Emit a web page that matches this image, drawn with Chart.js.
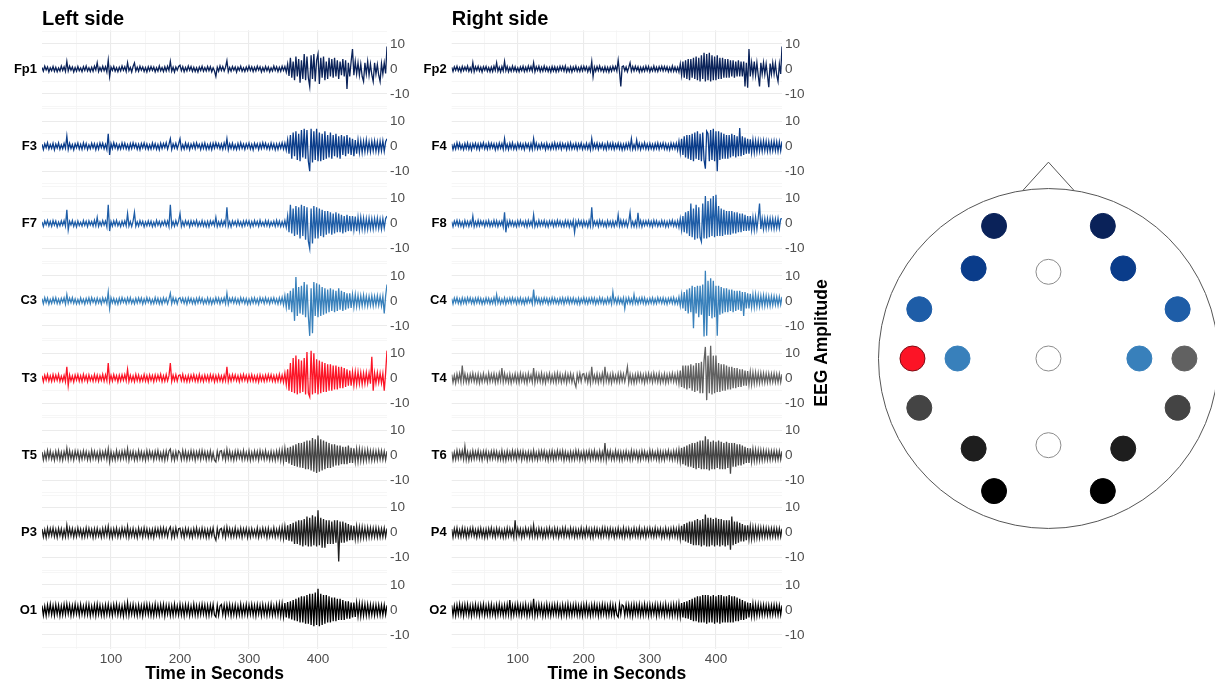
<!DOCTYPE html>
<html><head><meta charset="utf-8">
<script src="https://cdn.jsdelivr.net/npm/chart.js@4.4.0/dist/chart.umd.min.js"></script>
<style>
html,body{margin:0;padding:0;background:#fff;width:1216px;height:685px;overflow:hidden;position:relative}
canvas{position:absolute;display:block}
</style></head><body>
<canvas id="cl" width="420" height="685" style="left:0;top:0;width:420px;height:685px"></canvas>
<canvas id="cr" width="430" height="685" style="left:410px;top:0;width:430px;height:685px"></canvas>
<canvas id="ch" width="362" height="408" style="left:853px;top:146px;width:362px;height:408px"></canvas>
<script>
// ---------- data ----------
const TIMES = [0,2,4,6,8,10,12,14,16,18,20,22,24,26,28,30,32,34,36,38,40,42,44,46,48,
50,52,54,56,58,60,62,64,66,68,70,72,74,76,78,80,82,84,86,88,90,92,94,96,98,
100,102,104,106,108,110,112,114,116,118,120,122,124,126,128,130,132,134,136,138,140,142,144,146,148,
150,152,154,156,158,160,162,164,166,168,170,172,174,176,178,180,182,184,186,188,190,192,194,196,198,
200,202,204,206,208,210,212,214,216,218,220,222,224,226,228,230,232,234,236,238,240,242,244,246,248,
250,252,254,256,258,260,262,264,266,268,270,272,274,276,278,280,282,284,286,288,290,292,294,296,298,
300,302,304,306,308,310,312,314,316,318,320,322,324,326,328,330,332,334,336,338,340,342,344,346,348,
350,352,354,356,358,360,362,364,366,368,370,372,374,376,378,380,382,384,386,388,390,392,394,396,398,
400,402,404,406,408,410,412,414,416,418,420,422,424,426,428,430,432,434,436,438,440,442,444,446,448,
450,452,454,456,458,460,462,464,466,468,470,472,474,476,478,480,482,484,486,488,490,492,494,496,498,
500];
const X_TICK_LABELS = [100,200,300,400];
const X_GRID = [50,100,150,200,250,300,350,400,450];
const Y_TICK_LABELS = [-10,0,10];
const Y_GRID = [-15,-10,-5,0,5,10,15];

const LEFT_NAMES = ['Fp1','F3','F7','C3','T3','T5','P3','O1'];
const RIGHT_NAMES = ['Fp2','F4','F8','C4','T4','T6','P4','O2'];
const LEFT_COLORS = ['#0a2259','#0a3c8a','#1e5da7','#3880bb','#fc1426','#444444','#1e1e1e','#000000'];
const RIGHT_COLORS = ['#0a2259','#0a3c8a','#1e5da7','#3880bb','#616161','#444444','#1e1e1e','#000000'];

const FP1 = [0.6,-0.9,1.1,-0.4,0.8,-1.2,0.5,-0.7,1.0,-0.9,
0.7,-1.1,0.4,-0.8,1.2,-0.6,0.9,-1.0,3.0,-0.8,
1.1,-0.5,0.8,-1.2,0.6,-0.9,1.0,-0.7,0.4,-1.1,
0.9,-0.6,1.2,-0.8,0.5,-1.0,0.7,-0.9,1.1,-0.4,
2.5,-1.0,0.6,-0.8,1.1,-0.7,0.9,-1.2,3.5,-3.0,
0.8,-0.6,1.0,-0.9,0.5,-1.1,0.7,-0.8,1.2,-0.5,
0.9,-1.0,2.5,-0.7,0.6,-1.2,1.0,2.4,-0.8,0.7,
-0.9,1.1,-0.5,0.8,-1.0,0.6,-1.2,0.9,-0.7,1.0,
-0.6,0.8,-1.1,0.5,-0.9,1.2,-0.7,0.6,-1.0,0.9,
-0.8,1.1,-0.6,3.0,-0.9,0.7,-1.2,0.8,-0.5,1.0,
1.5,-0.7,0.9,-1.1,0.6,-0.8,1.2,-0.5,1.0,-0.9,
0.7,-1.0,0.5,-1.2,0.8,-0.6,1.1,-0.9,0.6,-0.8,
1.0,-0.7,0.9,-1.1,0.5,-0.8,-3.0,0.7,-0.9,1.2,
-0.6,1.0,-0.8,0.7,3.3,-1.1,0.6,-0.9,1.0,-0.5,
0.8,-1.2,0.7,-0.6,1.1,-0.9,0.5,-1.0,0.8,-0.7,
1.2,-0.6,0.9,-1.0,0.7,-0.8,1.1,-0.5,0.9,-1.2,
0.6,-0.9,1.0,-0.7,0.8,-1.1,0.5,-0.8,1.2,-0.6,
0.9,-1.0,0.7,-0.9,1.1,-0.6,1.0,-1.2,2.0,-2.8,
4.5,-3.5,3.0,-4.5,5.0,-3.0,4.0,-5.5,3.5,-4.0,
6.0,-4.5,5.0,-3.5,-7.0,5.5,-4.0,6.0,-5.0,3.5,
6.0,-6.0,4.5,-3.5,5.0,-4.5,3.0,-4.0,4.5,-3.0,
4.0,-3.5,4.5,-3.0,3.5,-4.0,3.0,-2.5,4.0,-3.0,
3.5,-8.0,2.5,-3.0,3.0,8.0,-2.5,3.0,-2.0,2.5,
-2.5,2.0,-3.0,-5.0,2.5,-2.0,3.0,-2.5,2.0,-2.3,
-5.0,2.5,-2.0,1.8,-2.5,-5.0,2.2,-2.0,2.5,-1.8,
9.0];
const F3 = [0.8,-1.3,1.0,-0.6,1.4,-1.1,0.7,-0.9,1.2,-1.4,
0.9,-0.7,1.3,-1.2,0.6,-1.0,1.1,-0.8,4.0,-1.3,
1.2,-0.9,0.7,-1.4,1.0,-0.6,1.3,-1.1,0.8,-1.2,
1.4,-0.8,1.1,-1.3,0.6,-1.0,1.2,-0.7,1.0,-1.4,
0.9,-1.1,1.3,-0.6,1.2,-1.0,0.8,-1.3,5.0,-3.5,
1.1,-0.9,1.4,-0.7,1.0,-1.2,0.6,-1.1,1.3,-0.8,
1.2,-1.0,0.7,-1.3,1.1,-0.9,1.4,-0.6,1.0,-1.2,
0.8,-1.4,1.1,-0.7,1.3,-1.0,0.9,-1.2,0.6,-1.1,
1.3,-0.8,1.0,-1.2,0.7,-1.4,1.2,-0.9,1.1,-0.6,
1.4,-1.1,0.8,3.0,-1.3,1.0,-0.7,1.2,-1.0,0.9,
3.0,-1.2,0.6,-1.1,1.3,-0.8,1.0,-1.4,0.9,-0.7,
1.2,-1.0,1.4,-0.6,0.8,-1.3,1.1,-0.9,1.3,-1.2,
0.7,-1.1,1.0,-1.3,1.2,-0.8,1.4,-0.6,1.1,-1.0,
0.9,-1.2,1.3,-0.7,3.0,-1.4,1.0,-0.9,1.2,-1.1,
0.6,-1.3,1.1,-1.0,1.4,-0.8,0.9,-1.2,1.0,-0.7,
1.3,-1.1,0.8,-1.4,1.2,-0.6,1.0,-1.3,1.1,-0.9,
1.4,-0.7,1.2,-1.0,0.8,-1.2,1.3,-0.9,1.0,-1.4,
0.9,-1.2,1.1,-0.8,1.4,-1.1,1.3,-1.5,2.5,-3.0,
4.5,-5.0,5.5,-4.0,6.0,-5.5,5.0,-6.0,6.5,-4.5,
7.0,-5.0,6.5,-6.0,-10.0,7.0,-6.5,6.0,-5.5,7.0,
-6.0,5.5,-6.0,5.0,-5.5,6.0,-5.0,4.5,-4.5,5.5,
-5.0,4.5,-4.0,5.0,-4.5,4.0,-5.0,4.5,-3.5,4.0,
-4.0,4.5,-3.0,3.5,-3.5,3.0,-4.0,2.5,-3.0,2.5,
-2.5,2.2,-2.5,2.0,-2.2,2.5,-2.0,1.8,-2.2,2.0,
-1.8,2.2,-2.0,1.8,-2.2,2.0,-1.8,2.2,-2.0,1.8,
3.0];
const F7 = [0.7,-1.2,1.0,-0.5,1.3,-0.9,0.8,-1.1,1.2,-0.6,
1.0,-1.3,0.6,-0.9,1.1,-0.7,1.2,-1.0,5.5,-2.5,
0.9,-0.6,1.2,-1.1,0.7,-1.3,1.0,-0.8,0.5,-1.0,
1.2,-0.7,0.9,-1.2,1.1,-0.6,0.8,-1.0,1.3,-0.9,
2.5,-1.1,0.7,-0.9,1.2,-0.6,1.0,-1.3,7.5,-3.0,
0.8,-1.0,1.1,-0.7,1.3,-0.9,0.6,-1.2,1.0,-0.8,
1.1,-0.9,4.0,-1.0,0.8,-1.2,1.0,4.5,-1.1,0.7,
-1.0,1.2,-0.6,0.9,-1.3,0.7,-0.9,1.1,-0.8,1.0,
-1.2,0.6,-1.0,1.3,-0.7,0.9,-1.1,0.8,-0.6,1.2,
-0.9,1.0,-1.2,7.5,-1.0,0.8,-1.1,1.2,-0.7,0.9,
4.0,-1.1,0.8,-1.0,1.2,-0.6,0.9,-1.3,1.1,-0.8,
1.0,-0.7,1.3,-1.1,0.6,-0.9,1.2,-1.0,0.8,-1.2,
0.9,-1.3,1.1,-0.6,1.0,-0.8,2.5,-1.2,0.7,-1.0,
1.2,-0.9,1.0,-0.7,6.5,-1.1,0.8,-1.3,1.1,-0.6,
0.9,-1.0,1.3,-0.8,0.7,-1.2,1.0,-0.9,1.2,-0.6,
1.1,-1.3,0.8,-1.0,1.2,-0.7,0.9,-1.1,1.3,-0.8,
0.6,-1.0,1.2,-0.9,1.1,-1.2,0.7,-0.8,1.0,-1.1,
1.3,-0.9,1.0,-1.2,0.8,-1.1,1.2,-1.5,3.0,-3.5,
7.5,-4.0,6.0,-5.0,7.0,-4.5,6.5,-6.0,7.5,-5.0,
7.0,-6.5,6.5,-7.0,-10.0,6.0,-8.0,7.0,-6.0,6.5,
-6.0,6.0,-5.0,5.5,-5.5,5.0,-4.5,5.0,-4.0,4.5,
-4.5,4.0,-4.0,4.5,-3.5,4.0,-3.5,3.5,-4.0,3.0,
-3.5,3.5,-3.0,3.0,-3.0,3.0,-2.5,2.8,-3.0,2.5,
-2.5,2.5,-2.2,2.2,-2.5,2.0,-2.2,2.2,-2.0,2.0,
-2.2,2.0,-1.8,2.2,-2.0,1.8,-2.2,2.0,-1.8,2.0,
3.0];
const C3 = [0.9,-1.2,1.3,-0.7,1.1,-1.3,0.6,-1.0,1.2,-0.8,
1.3,-1.1,0.7,-1.2,1.0,-0.6,1.2,-1.3,2.5,-0.9,
1.1,-0.7,1.3,-1.0,0.8,-1.2,0.6,-1.1,1.2,-0.9,
0.7,-1.3,1.0,-0.8,1.2,-1.1,1.3,-0.6,0.9,-1.2,
1.1,-0.9,0.8,-1.3,1.2,-0.7,1.0,-1.1,3.5,-3.0,
1.2,-0.8,1.0,-1.2,0.7,-1.3,1.1,-0.9,1.3,-0.6,
0.9,-1.1,1.2,-0.8,1.3,-1.0,0.6,-1.2,1.0,-0.9,
1.2,-0.7,1.1,-1.3,0.8,-1.0,1.3,-0.6,1.0,-1.2,
0.6,-1.1,1.3,-0.9,1.0,-1.2,0.8,-1.3,1.2,-0.7,
1.0,-1.2,0.7,3.0,-1.1,1.3,-0.8,1.0,-1.2,0.9,
1.3,-0.6,1.1,-1.0,0.9,-1.3,1.2,-0.7,1.0,-1.1,
0.8,-1.2,1.0,-0.9,1.3,-0.7,1.1,-1.2,0.6,-1.0,
1.2,-1.1,0.9,-1.3,0.7,-1.0,1.3,-0.8,1.1,-1.2,
0.9,-0.7,1.2,-1.1,3.0,-1.3,1.0,-0.6,1.2,-0.9,
1.1,-1.0,0.8,-1.2,1.3,-0.7,1.0,-1.1,0.9,-1.3,
0.7,-1.2,1.1,-0.9,1.2,-1.0,0.8,-1.3,1.3,-0.6,
1.0,-1.1,1.3,-0.8,0.9,-1.2,1.1,-0.7,1.2,-1.0,
0.8,-1.3,1.2,-1.0,1.4,-1.6,2.0,-2.5,3.0,-3.5,
4.0,-4.5,5.0,-8.0,9.5,-6.0,5.5,-5.0,6.0,-5.5,
7.5,-6.5,6.5,-6.0,-14.0,5.0,-13.0,7.5,-6.0,7.0,
-6.5,6.5,-6.0,5.5,-5.5,5.0,-5.0,4.5,-4.5,5.0,
-4.0,4.5,-4.5,4.0,-4.0,5.0,-3.5,4.0,-4.0,3.5,
-3.5,3.0,-3.0,3.0,-2.8,2.5,-2.5,2.5,-2.2,2.2,
-2.2,2.0,-2.0,2.2,-2.0,1.8,-2.0,1.8,-1.8,2.0,
-2.0,1.8,-1.8,2.0,-1.8,1.8,-2.0,1.8,-5.0,2.0,
6.5];
const T3 = [1.0,-1.4,1.2,-0.8,1.5,-1.1,0.9,-1.3,1.4,-1.0,
1.2,-0.9,1.5,-1.3,0.8,-1.2,1.1,-1.4,4.5,-3.0,
1.3,-1.1,0.9,-1.5,1.2,-0.8,1.4,-1.2,1.0,-1.3,
1.5,-0.9,1.1,-1.4,1.3,-1.0,0.8,-1.2,1.4,-1.1,
1.2,-1.3,1.0,-0.9,1.5,-1.2,1.3,-1.0,6.0,-1.4,
1.1,-1.2,1.4,-0.8,1.0,-1.5,1.2,-1.1,1.3,-0.9,
1.4,-1.0,3.5,-1.3,1.1,-1.2,0.9,-1.4,1.5,-1.0,
1.2,-1.3,0.8,-1.1,1.4,-1.2,1.0,-1.5,1.3,-0.9,
1.1,-1.4,1.3,-1.0,1.2,-0.8,1.5,-1.3,1.0,-1.2,
1.4,-1.1,0.9,6.0,-1.3,1.2,-1.0,1.4,-1.2,1.1,
1.3,-1.0,1.5,-1.2,0.8,-1.4,1.1,-1.3,1.2,-0.9,
1.4,-1.2,1.0,-1.3,1.5,-1.1,0.9,-1.4,1.2,-1.0,
1.1,-1.3,1.4,-0.9,1.2,-1.5,1.0,-1.2,1.3,-1.1,
0.9,-1.4,1.2,-1.0,4.5,-1.3,1.1,-1.2,1.4,-0.8,
1.3,-1.1,1.0,-1.4,1.2,-1.0,1.5,-0.9,1.1,-1.3,
1.2,-1.0,1.4,-1.2,0.9,-1.3,1.1,-1.5,1.3,-1.1,
1.0,-1.3,1.2,-1.1,1.4,-0.9,1.3,-1.2,1.0,-1.4,
1.1,-1.2,1.5,-1.3,1.2,-1.6,2.0,-2.5,3.5,-5.0,
6.0,-5.5,8.0,-6.0,9.0,-6.5,7.5,-6.0,7.0,-5.5,
8.0,-6.5,10.5,-6.0,-7.5,11.0,-6.5,10.0,-6.0,7.5,
-6.5,7.0,-6.0,6.5,-5.5,6.0,-5.5,5.5,-5.0,5.5,
-5.0,5.0,-4.5,5.0,-4.5,4.5,-4.0,4.5,-4.0,4.0,
-3.5,3.5,-3.0,3.0,-3.0,2.5,-2.8,2.5,-2.5,2.5,
-2.2,2.2,-2.5,2.0,-2.2,2.2,-2.0,2.0,-2.2,8.5,
-5.0,2.0,-2.0,2.2,-1.8,2.0,-2.0,1.8,-5.0,2.0,
11.0];
const T5 = [1.4,-1.8,1.1,-1.6,1.9,-1.2,1.7,-1.5,1.0,-1.9,
1.6,-1.3,1.8,-1.7,1.2,-1.9,1.5,-1.1,2.8,-1.6,
1.9,-1.4,1.3,-1.8,1.7,-1.0,1.6,-1.9,1.2,-1.5,
1.8,-1.2,1.5,-1.7,1.1,-1.8,1.9,-1.3,1.6,-1.4,
1.2,-1.9,1.7,-1.5,1.4,-1.1,1.8,-1.6,2.5,-2.5,
1.5,-1.7,1.0,-1.8,1.9,-1.4,1.3,-1.6,1.7,-1.2,
1.8,-1.5,2.6,-1.9,1.4,-1.2,1.6,-1.8,1.1,-1.7,
1.9,-1.3,1.5,-1.6,1.2,-1.9,1.8,-1.4,1.7,-1.1,
1.3,-1.8,1.6,-1.2,1.9,-1.5,1.0,-1.7,1.4,-1.9,
1.7,-1.4,1.8,2.6,-1.6,1.2,-1.9,1.5,-1.3,1.8,
1.1,-1.7,1.9,-1.4,1.6,-1.8,1.2,-1.5,1.8,-1.3,
1.6,-1.9,1.4,-1.2,1.7,-1.6,1.9,-1.1,1.5,-1.8,
1.3,-1.5,1.8,-1.7,1.0,-1.9,-2.6,1.6,-1.4,1.7,
1.9,-1.2,1.5,-1.8,2.4,-1.3,1.7,-1.6,1.1,-1.9,
1.6,-1.4,1.8,-1.1,1.3,-1.7,1.9,-1.5,1.2,-1.6,
1.8,-1.9,1.2,-1.6,1.7,-1.3,1.5,-1.8,1.9,-1.2,
1.4,-1.6,1.9,-1.4,1.1,-1.8,1.6,-1.7,1.3,-1.9,
1.7,-1.5,1.9,-2.0,2.2,-2.4,2.8,-2.6,3.0,-3.2,
3.5,-3.8,4.0,-4.2,4.5,-4.5,5.0,-4.8,5.0,-5.0,
5.5,-5.5,6.0,-5.5,6.0,-6.0,7.0,-6.5,6.5,-7.0,
8.0,-6.5,6.5,-6.0,6.0,-5.5,5.5,-5.0,5.0,-5.0,
4.5,-4.5,4.5,-4.0,4.0,-4.0,4.0,-3.5,3.5,-3.5,
3.5,-3.5,4.0,-3.0,3.0,-3.0,2.8,-2.5,2.5,-2.5,
2.5,-2.2,2.2,-2.2,2.0,-2.0,2.2,-1.9,1.8,-2.0,
1.8,-1.9,1.7,-1.8,1.9,-1.6,1.8,-1.7,1.6,-1.8,
1.7];
const P3 = [1.5,-1.7,1.2,-1.9,1.8,-1.3,1.6,-1.1,1.9,-1.5,
1.3,-1.8,1.7,-1.2,1.5,-1.9,1.1,-1.6,3.0,-1.4,
1.8,-1.2,1.6,-1.7,1.3,-1.5,1.9,-1.1,1.4,-1.8,
1.2,-1.6,1.9,-1.4,1.7,-1.2,1.3,-1.9,1.5,-1.6,
1.7,-1.3,1.1,-1.8,1.6,-1.5,1.9,-1.2,2.5,-1.7,
1.4,-1.9,1.5,-1.3,1.8,-1.6,1.2,-1.7,1.9,-1.1,
1.6,-1.5,2.5,-1.8,1.3,-1.4,1.7,-1.6,1.1,-1.9,
1.8,-1.2,1.4,-1.7,1.9,-1.3,1.5,-1.8,1.2,-1.6,
1.3,-1.9,1.7,-1.1,1.6,-1.5,1.8,-1.4,1.9,-1.2,
1.5,-1.6,1.2,2.3,-1.8,1.4,-1.7,1.9,-1.3,1.6,
1.8,-1.4,1.3,-1.9,1.7,-1.2,1.5,-1.6,1.1,-1.8,
1.6,-1.3,1.9,-1.5,1.2,-1.7,1.8,-1.4,1.4,-1.9,
1.2,-1.8,1.5,-1.2,1.9,-1.6,-3.0,1.7,-1.5,1.3,
1.7,-1.4,1.8,-1.9,2.2,-1.1,1.6,-1.7,1.3,-1.5,
1.9,-1.6,1.2,-1.4,1.8,-1.8,1.5,-1.2,1.7,-1.9,
1.4,-1.7,1.6,-1.3,1.1,-1.5,1.9,-1.8,1.3,-1.4,
1.8,-1.2,1.5,-1.9,1.7,-1.6,1.2,-1.4,1.9,-1.7,
1.3,-1.5,1.8,-2.0,2.2,-2.3,2.5,-2.8,3.0,-3.2,
3.5,-3.5,4.0,-4.5,4.5,-4.5,5.0,-5.0,5.0,-5.5,
5.5,-5.0,6.5,-5.5,6.0,-5.5,7.0,-5.0,6.5,-5.5,
9.0,-5.0,6.0,-6.0,5.5,-6.0,5.0,-4.5,5.0,-4.5,
4.5,-4.5,5.0,-4.0,5.0,-11.5,4.5,-4.0,4.5,-4.0,
4.0,-3.5,3.5,-3.0,3.0,-3.0,2.8,-2.5,2.5,-2.5,
2.2,-2.2,2.2,-2.0,2.0,-2.0,2.0,-1.8,1.9,-1.8,
1.8,-1.7,1.9,-1.8,1.7,-1.8,1.6,-1.7,1.8,-1.6,
1.7];
const O1 = [1.8,-2.1,1.5,-2.2,2.0,-1.6,2.3,-1.9,1.7,-2.2,
2.1,-1.7,1.9,-2.3,1.6,-2.0,2.2,-1.8,2.4,-1.5,
2.0,-2.2,1.7,-1.9,2.3,-1.6,1.8,-2.1,2.2,-1.7,
1.6,-2.0,2.2,-1.8,2.1,-2.3,1.5,-1.9,2.0,-2.2,
2.3,-1.7,1.9,-2.1,1.6,-2.2,2.0,-1.8,2.2,-1.9,
1.7,-2.2,2.1,-1.6,2.3,-1.9,1.8,-2.0,1.6,-2.3,
2.2,-1.8,3.0,-2.1,1.9,-1.7,2.2,-2.0,1.6,-2.2,
2.0,-1.9,1.7,-2.3,2.1,-1.6,2.2,-1.8,2.0,-2.1,
1.6,-2.2,2.3,-1.9,1.8,-2.0,2.1,-1.7,2.2,-2.3,
1.9,-1.6,2.0,-2.2,1.7,-2.1,2.3,-1.8,1.6,-2.0,
2.2,-1.9,1.8,-2.3,2.1,-1.7,2.0,-2.2,1.6,-1.9,
2.3,-2.0,1.7,-2.1,1.9,-1.8,2.2,-1.6,2.0,-2.2,
1.8,-2.1,2.0,-1.7,2.2,-2.0,-2.8,1.9,-2.1,1.6,
2.2,-1.8,1.9,-2.3,2.0,-1.6,2.1,-2.2,1.8,-1.9,
2.0,-2.2,1.6,-1.9,2.3,-2.1,1.7,-1.8,2.2,-2.0,
1.9,-1.7,2.2,-2.0,1.8,-2.3,2.1,-1.6,1.9,-2.2,
2.1,-1.9,1.7,-2.2,2.0,-1.8,2.3,-2.1,1.6,-2.0,
2.2,-2.0,2.4,-2.3,2.5,-2.6,2.8,-3.0,3.2,-3.4,
3.5,-3.8,4.0,-4.2,4.5,-4.5,5.0,-5.0,5.5,-5.0,
5.5,-5.5,6.0,-5.5,6.5,-6.0,6.5,-6.5,7.0,-6.0,
8.5,-6.5,6.5,-6.0,6.0,-5.5,6.0,-5.0,5.5,-5.0,
5.0,-4.5,5.0,-4.5,4.5,-4.0,4.5,-4.0,4.0,-4.0,
3.5,-3.5,3.5,-3.5,3.0,-3.0,3.0,-2.8,2.8,-2.5,
2.5,-2.5,2.5,-2.2,2.3,-2.2,2.2,-2.2,2.1,-2.0,
2.0,-2.1,2.0,-1.9,2.0,-2.0,1.9,-2.0,2.0,-1.8,
1.9];

const FP2 = [0.7,-1.0,0.9,-0.5,1.1,-0.8,0.6,-1.1,1.0,-0.7,
0.8,-0.6,1.2,-0.9,0.5,-1.0,2.5,-1.1,0.9,-0.6,
1.1,-0.8,0.7,-1.2,0.9,-0.5,1.0,-0.9,0.6,-1.1,
0.8,-1.0,1.1,-0.6,2.5,-0.9,0.7,-1.2,1.0,-0.8,
3.0,-0.7,1.0,-1.1,0.6,-0.9,1.2,-0.8,0.9,-1.0,
0.5,-1.1,0.8,-0.7,1.1,-1.0,0.7,-0.9,1.2,-0.6,
1.0,-0.8,2.5,-1.1,0.9,-0.6,1.1,-1.0,0.7,-0.9,
1.2,-0.7,0.8,-1.0,0.6,-1.2,1.0,-0.8,0.9,-1.1,
0.7,-0.9,1.1,-0.6,1.0,-0.8,1.2,-1.1,0.5,-1.0,
0.9,-1.2,0.8,-0.7,1.1,-0.9,0.6,-1.0,1.0,-0.8,
1.1,-0.6,0.9,-1.1,0.7,-1.0,3.0,-3.0,0.8,-0.9,
1.0,-0.7,1.2,-0.8,0.6,-1.1,0.9,-1.0,0.7,-1.2,
0.8,-0.9,1.1,-0.6,1.0,-0.8,3.5,-1.0,-7.0,0.9,
1.2,-0.7,0.8,-1.1,0.6,2.5,-0.9,1.0,-0.8,1.1,
-0.6,0.9,-1.2,0.7,-1.0,0.8,-0.9,1.1,-0.7,1.0,
-1.1,0.6,-0.8,1.2,-0.9,0.7,-1.0,0.9,-0.6,1.1,
-0.8,1.0,-0.7,0.9,-1.1,0.6,-1.0,1.2,-0.9,0.8,
-1.0,0.7,-1.2,2.0,-2.5,3.0,-3.5,3.5,-4.0,4.0,
-4.5,4.0,-3.5,4.5,-4.0,5.0,-4.5,4.5,-5.0,5.5,
-4.0,6.5,-5.0,6.0,-4.5,6.5,-5.0,5.5,-4.5,5.0,
-4.5,5.5,-4.0,4.5,-4.0,4.5,-3.5,4.0,-3.5,4.0,
-3.5,3.5,-3.0,3.5,-3.5,3.0,-3.0,3.5,-3.0,3.0,
-3.0,3.0,-7.0,2.5,-7.5,8.0,-3.0,2.5,-2.5,3.0,
-2.5,2.5,-2.5,-7.0,2.5,-2.0,2.5,-2.2,2.0,-2.5,
-7.3,2.2,-2.0,2.5,-2.0,2.2,-2.5,-5.0,2.0,-2.0,
9.0];
const F4 = [1.0,-1.3,0.7,-1.1,1.4,-0.8,1.2,-1.0,0.6,-1.3,
1.1,-0.9,1.3,-1.2,0.8,-1.4,1.0,-0.7,1.2,-1.1,
0.9,-1.3,1.1,-0.6,1.4,-1.0,0.8,-1.2,1.3,-0.9,
1.2,-0.7,1.0,-1.4,0.9,-1.1,1.3,-0.8,1.1,-1.2,
3.0,-1.0,0.8,-1.3,1.2,-0.9,1.4,-1.1,0.7,-1.2,
1.3,-0.8,1.1,-1.0,0.9,-1.3,1.2,-0.6,1.0,-1.4,
1.1,-1.2,3.0,-0.9,1.3,-1.1,0.8,-1.0,1.2,-0.7,
0.9,-1.4,1.2,-1.0,0.7,-1.2,1.1,-0.9,1.4,-1.1,
1.0,-0.8,1.3,-1.2,1.1,-0.7,0.9,-1.3,1.2,-1.0,
1.4,-1.1,0.8,-0.9,1.2,-1.3,1.0,-0.8,1.3,-1.2,
0.7,-1.0,1.2,-1.1,0.9,-1.4,3.0,-1.0,1.1,-0.8,
1.3,-1.2,1.0,-0.7,1.2,-1.1,0.8,-1.3,1.4,-0.9,
1.1,-1.0,1.3,-1.2,0.9,-0.8,1.2,-1.1,1.0,-1.4,
0.8,-1.2,1.1,-0.9,1.3,-1.0,3.0,-1.2,0.7,-1.1,
2.5,-0.9,1.2,-1.3,1.0,-0.8,1.4,-1.1,0.9,-1.2,
1.2,-1.0,0.8,-1.3,1.1,-0.9,1.3,-1.2,1.0,-0.7,
1.3,-1.1,1.0,-1.2,0.8,-1.4,1.2,-0.9,1.1,-1.0,
1.2,-1.5,2.0,-2.5,3.0,-3.5,4.0,-4.5,4.5,-5.0,
4.5,-5.5,5.0,-6.0,5.5,-5.0,6.0,-5.5,5.0,-6.0,
5.5,-5.5,-9.0,6.0,5.0,-6.0,6.5,-5.5,7.0,-6.0,
6.0,-10.0,6.0,-5.5,5.5,-5.0,5.0,-5.0,4.5,-5.0,
4.5,-4.5,5.0,-4.0,4.5,-4.5,4.0,-4.0,7.3,-4.0,
4.0,-3.5,3.5,-3.0,3.0,-3.0,2.8,-2.5,2.5,-2.5,
2.2,-2.2,2.2,-2.0,2.0,-2.0,2.2,-1.8,2.0,-2.0,
1.8,-2.0,1.8,-1.8,2.0,-1.8,1.8,-2.0,1.8,-1.8,
2.0];
const F8 = [0.8,-1.2,1.0,-0.6,1.3,-0.9,1.1,-1.0,0.7,-1.3,
1.2,-0.8,0.9,-1.1,1.0,-0.7,3.0,-1.2,0.8,-1.0,
1.3,-0.9,1.1,-0.6,0.9,-1.2,1.0,-0.8,1.2,-1.1,
0.7,-1.0,1.3,-0.9,1.1,-1.2,0.8,-0.7,1.0,-1.3,
4.5,-3.5,0.9,-1.1,1.2,-0.8,1.0,-1.0,0.7,-1.2,
1.1,-0.9,1.3,-0.7,0.8,-1.1,1.0,-1.3,1.2,-0.8,
0.9,-1.0,3.5,-1.2,0.7,-1.1,1.3,-0.9,1.0,-0.8,
1.2,-1.1,0.8,-1.3,1.0,-0.7,1.1,-1.2,0.9,-1.0,
1.3,-0.8,1.0,-1.1,0.7,-1.2,1.2,-0.9,1.1,-1.3,
0.8,-1.0,1.2,-3.5,0.9,-1.1,1.3,-0.7,1.0,-1.2,
1.1,-0.9,0.8,-1.3,1.2,-1.0,6.5,-1.1,0.9,-0.7,
1.0,-1.2,1.3,-0.8,1.1,-1.0,0.7,-1.3,1.2,-0.9,
0.9,-1.1,1.0,-1.2,0.8,-0.7,3.5,-1.0,1.3,-1.1,
1.2,-0.9,1.1,-1.3,0.7,4.5,-1.0,0.8,-1.2,1.0,
-1.1,4.3,-0.9,1.2,-1.3,1.0,-0.8,1.1,-0.7,1.2,
-1.0,0.9,-1.2,1.3,-0.8,1.1,-1.1,0.7,-1.0,1.2,
-0.9,1.0,-1.3,0.8,-1.2,1.1,-0.7,1.3,-1.0,0.9,
-1.2,1.1,-1.5,2.0,-2.5,3.0,-3.5,4.5,-4.0,5.0,
-5.0,8.0,-5.5,6.0,-6.5,7.5,-6.0,6.5,-5.5,-7.2,
8.0,-6.0,11.0,-6.0,9.0,-5.5,10.0,-5.0,11.0,-5.5,
11.5,-5.0,7.0,-5.0,6.0,-5.0,5.5,-4.5,5.0,-4.5,
5.0,-4.5,5.0,-4.0,4.5,-4.0,4.5,-3.5,4.0,-3.5,
4.0,-3.0,3.5,-3.0,3.0,-2.8,3.0,-2.5,2.5,-2.5,
2.5,-2.2,2.2,8.0,-2.2,2.0,-2.2,2.0,-2.0,2.0,
-1.8,2.0,-1.8,2.0,-2.0,1.8,-1.8,2.0,-1.8,1.8,
2.0];
const C4 = [0.9,-1.2,1.1,-0.7,1.3,-1.0,0.8,-1.3,1.2,-0.9,
1.0,-1.1,1.3,-0.6,1.2,-1.0,0.9,-1.2,1.1,-0.8,
1.3,-0.9,1.0,-1.3,0.7,-1.1,1.2,-0.8,1.0,-1.2,
0.8,-1.0,1.3,-1.1,2.5,-0.9,1.1,-1.2,0.7,-1.0,
1.2,-1.3,0.9,-0.8,1.1,-1.0,1.3,-0.7,1.0,-1.2,
1.1,-0.9,1.2,-1.1,0.8,-1.3,1.0,-0.9,1.2,-0.7,
0.9,-1.2,4.5,-1.0,1.3,-0.8,1.1,-1.2,0.9,-1.1,
1.2,-0.7,1.0,-1.3,0.8,-1.1,1.3,-0.9,1.1,-1.0,
0.7,-1.2,1.1,-0.9,1.2,-1.3,1.0,-0.8,1.3,-1.1,
1.0,-0.9,1.2,-1.0,0.8,-1.2,1.1,-1.3,0.9,-0.7,
1.3,-1.1,0.9,-1.2,1.0,-0.8,1.2,-1.0,1.1,-1.3,
0.8,-1.0,1.3,-0.9,1.1,-1.2,0.7,-1.1,1.2,-0.9,
1.1,-1.3,3.5,-0.8,1.0,-1.2,1.3,-1.0,0.9,-1.1,
1.2,-3.0,1.0,-0.9,1.3,-1.1,0.8,-1.2,2.5,-1.0,
0.9,-1.2,1.1,-0.8,1.3,-1.0,1.2,-1.3,0.7,-1.1,
1.0,-0.9,1.2,-1.2,0.8,-1.1,1.3,-0.7,1.1,-1.0,
1.2,-1.1,0.9,-1.3,1.0,-0.8,1.2,-1.0,1.3,-1.2,
0.8,-1.2,1.5,-2.0,2.5,-3.0,3.5,-4.0,4.5,-5.0,
5.0,-4.5,6.0,-11.0,5.5,-5.0,6.0,-6.5,6.0,-5.5,
6.5,-14.3,12.0,-14.0,8.0,-6.0,9.0,-7.0,8.0,-6.5,
6.0,-14.0,6.0,-5.5,5.5,-5.0,5.0,-4.5,5.0,-4.5,
4.5,-4.0,4.5,-4.5,4.0,-4.0,4.0,-3.5,4.0,-4.0,
3.5,-6.0,3.5,-3.0,3.0,-3.0,2.8,-2.5,2.5,-2.5,
2.5,-2.2,2.2,-2.2,2.0,-2.0,2.2,-2.0,2.0,-1.8,
1.8,-2.0,1.8,-1.8,1.8,-1.6,1.6,-1.8,1.6,-1.5,
1.6];
const T4 = [1.4,-1.7,1.1,-1.9,1.6,-1.2,1.8,-1.5,5.0,-1.3,
1.7,-1.6,1.2,-1.8,1.5,-1.1,1.9,-1.4,1.3,-1.7,
1.6,-1.9,1.2,-1.5,1.8,-1.3,1.1,-1.7,1.9,-1.4,
1.5,-1.2,1.7,-1.8,1.3,-1.6,1.9,-1.1,4.0,-1.5,
1.8,-1.4,1.2,-1.7,1.6,-1.9,1.1,-1.3,1.7,-1.6,
1.4,-1.8,1.9,-1.2,1.5,-1.6,1.3,-1.9,1.8,-1.1,
1.2,-1.5,4.0,-1.8,1.7,-1.3,1.6,-1.4,1.9,-1.7,
1.3,-1.9,1.5,-1.1,1.8,-1.6,1.2,-1.5,1.7,-1.8,
1.9,-1.3,1.6,-1.7,1.1,-1.4,1.8,-1.9,1.5,-1.2,
1.7,-1.6,1.3,-1.8,-3.5,1.5,-1.2,1.9,-1.4,1.6,
1.8,-1.1,1.4,-1.7,1.6,-1.9,4.5,-1.3,1.2,-1.5,
1.7,-1.8,1.3,-1.4,1.9,-1.6,4.5,-1.2,1.5,-1.7,
1.4,-1.9,1.8,-1.3,1.1,-1.6,1.7,-1.5,1.9,-1.2,
1.6,-1.4,1.3,4.5,-1.8,1.5,-1.7,1.2,-1.9,1.4,
-1.6,1.8,-1.1,1.7,-1.5,1.3,-1.9,1.6,-1.4,1.8,
-1.2,1.5,-1.7,1.9,-1.3,1.4,-1.6,1.8,-1.8,1.2,
-1.5,1.7,-1.9,1.3,-1.6,1.6,-1.2,1.9,-1.4,1.5,
-1.7,1.8,-2.2,3.0,-3.5,5.0,-4.0,5.0,-4.5,5.0,
-4.0,5.5,-5.0,5.0,-5.5,6.0,-5.0,6.0,-6.0,6.5,
-6.0,7.0,12.5,-8.8,9.0,-6.0,13.0,-6.5,9.0,-6.0,
9.0,-5.5,6.0,-5.5,5.5,-5.0,5.5,-5.0,5.0,-4.5,
4.5,-4.5,4.5,-4.0,4.0,-4.0,4.0,-3.5,3.5,-3.5,
3.5,-3.0,3.0,-3.0,2.8,-2.5,2.5,-2.5,2.2,-2.2,
2.2,-2.0,2.0,-2.0,2.0,-1.8,1.9,-1.8,1.8,-1.7,
1.8,-1.7,1.7,-1.6,1.8,-1.7,1.6,-1.7,1.7,-1.6,
1.6];
const T6 = [1.5,-1.8,1.2,-1.6,1.9,-1.3,1.7,-1.1,1.8,-1.5,
3.5,-1.7,1.4,-1.9,1.2,-1.6,1.8,-1.4,1.5,-1.2,
1.9,-1.5,1.3,-1.8,1.6,-1.1,1.7,-1.9,1.2,-1.4,
1.6,-1.3,1.8,-1.2,1.5,-1.7,1.1,-1.6,1.9,-1.8,
1.2,-1.9,1.7,-1.4,1.3,-1.5,1.9,-1.2,1.6,-1.7,
1.8,-1.1,1.5,-1.8,1.7,-1.3,1.2,-1.9,1.4,-1.6,
1.3,-1.7,1.9,-1.5,1.1,-1.8,1.6,-1.3,1.8,-1.2,
1.7,-1.6,1.2,-1.9,1.5,-1.4,1.8,-1.7,1.3,-1.5,
1.9,-1.2,1.6,-1.3,1.8,-1.9,1.4,-1.5,1.1,-1.8,
1.5,-1.7,1.3,-1.6,1.9,-1.2,1.7,-1.8,1.2,-1.4,
1.6,-1.9,1.4,-1.1,1.8,-1.7,1.5,-1.3,1.9,-1.6,
1.2,-1.5,1.7,-1.8,1.3,-1.4,5.0,-1.9,1.6,-1.2,
1.8,-1.6,1.1,-1.7,1.9,-1.3,1.5,-1.8,1.4,-1.9,
1.3,-1.4,1.7,-1.5,1.2,-1.8,1.9,-1.6,1.6,-1.1,
1.5,-1.9,1.3,-1.7,1.8,-1.2,1.6,-1.5,1.1,-1.8,
1.9,-1.4,1.7,-1.3,1.2,-1.6,1.8,-1.9,1.5,-1.7,
1.4,-1.8,1.6,-1.1,1.9,-1.5,1.3,-1.7,1.7,-1.6,
1.8,-1.9,2.2,-2.5,3.0,-3.5,3.5,-4.0,4.0,-4.5,
4.5,-4.5,5.0,-5.0,5.0,-5.5,5.5,-5.0,6.0,-5.5,
6.0,-5.5,7.7,-5.5,6.5,-6.0,5.5,-5.5,6.0,-5.5,
5.5,-5.0,6.0,-5.5,5.5,-5.5,5.0,-5.5,5.5,-5.0,
5.0,-7.3,5.0,-4.5,5.0,-4.5,4.5,-4.0,4.5,-4.0,
4.0,-3.5,3.5,-3.0,3.0,-3.0,2.8,-2.5,2.5,-2.2,
2.2,-2.2,2.0,-2.0,2.0,-1.9,1.9,-1.8,1.8,-1.8,
1.7,-1.8,1.7,-1.6,1.8,-1.7,1.6,-1.7,1.7,-1.6,
1.7];
const P4 = [1.4,-1.8,1.6,-1.2,1.9,-1.5,1.1,-1.7,1.8,-1.3,
1.6,-1.9,1.3,-1.5,1.7,-1.1,1.9,-1.4,1.2,-1.8,
1.5,-1.3,1.8,-1.6,1.2,-1.9,1.4,-1.7,1.6,-1.1,
1.9,-1.5,1.3,-1.8,1.7,-1.2,1.5,-1.6,1.1,-1.9,
1.3,-1.7,1.8,-1.4,1.6,-1.3,1.2,-1.8,5.0,-1.5,
1.7,-1.2,1.5,-1.9,1.3,-1.6,1.8,-1.1,1.4,-1.7,
1.9,-1.4,3.0,-1.6,1.2,-1.8,1.7,-1.3,1.5,-1.9,
1.2,-1.7,1.6,-1.5,1.9,-1.2,1.3,-1.8,1.7,-1.4,
1.5,-1.9,1.2,-1.3,1.8,-1.6,1.9,-1.4,1.1,-1.7,
1.8,-1.3,1.5,-1.8,1.4,-1.7,1.2,-1.5,1.9,-1.6,
1.3,-1.6,1.9,-1.2,1.5,-1.8,1.4,-1.9,1.7,-1.2,
1.6,-1.5,1.2,-1.7,1.8,-1.4,1.9,-1.3,1.5,-1.8,
1.7,-1.2,1.4,-1.9,1.3,-1.6,1.8,-1.5,1.2,-1.7,
1.9,-1.8,1.5,-1.3,1.6,-1.9,1.2,-1.4,1.8,-1.5,
1.4,-1.6,1.9,-1.7,1.2,-1.3,1.7,-1.8,1.5,-1.2,
1.8,-1.4,1.3,-1.6,1.9,-1.5,1.4,-1.2,1.6,-1.9,
1.2,-1.7,1.8,-1.5,1.3,-1.9,1.6,-1.4,1.8,-1.6,
1.5,-1.8,2.0,-2.5,2.8,-3.0,3.5,-3.5,4.0,-4.0,
4.5,-4.5,4.5,-5.0,5.0,-5.0,5.5,-5.0,5.0,-5.5,
5.5,-5.0,7.3,-5.5,6.0,-5.5,6.0,-5.0,5.5,-5.5,
6.0,-5.0,5.5,-5.5,5.5,-5.0,5.0,-5.5,5.0,-5.0,
5.0,-6.8,6.5,-5.0,4.5,-4.5,4.5,-4.0,4.0,-3.5,
3.5,-3.5,3.0,-3.0,3.0,-2.5,2.5,-2.5,2.2,-2.2,
2.2,-2.0,2.0,-2.0,2.0,-1.8,1.9,-1.8,1.8,-1.7,
1.7,-1.8,1.7,-1.6,1.8,-1.7,1.6,-1.7,1.7,-1.6,
1.6];
const O2 = [1.9,-2.1,1.6,-2.2,2.0,-1.7,2.3,-1.8,1.9,-2.2,
2.1,-1.6,2.2,-2.0,1.7,-2.3,1.9,-1.8,2.2,-1.9,
1.8,-2.2,2.0,-1.6,2.3,-2.1,1.7,-1.9,2.1,-2.0,
2.2,-1.8,1.6,-2.2,2.0,-1.9,2.3,-1.7,1.8,-2.1,
1.9,-2.0,2.2,-1.8,4.0,-2.2,1.7,-2.0,2.1,-1.6,
2.3,-1.9,1.8,-2.1,2.0,-1.7,2.2,-2.3,1.6,-2.0,
2.1,-1.8,4.5,-2.2,1.9,-2.0,2.2,-1.6,2.0,-2.3,
1.7,-2.1,2.3,-1.9,1.8,-2.2,2.0,-1.7,2.1,-1.8,
2.2,-2.0,1.6,-2.3,2.1,-1.8,1.9,-2.2,2.3,-1.9,
1.8,-2.1,2.0,-1.7,2.2,-2.0,1.7,-2.1,1.9,-2.2,
2.1,-1.8,2.3,-2.0,1.6,-2.2,2.0,-1.9,2.2,-1.7,
1.9,-2.3,1.8,-2.0,2.2,-1.6,2.1,-2.1,1.7,-2.0,
2.2,-1.9,2.0,-2.2,1.8,-2.0,-2.8,2.3,-1.7,2.1,
1.6,-2.2,2.1,-1.8,2.0,-2.1,1.9,-2.3,2.2,-1.7,
2.0,-1.9,2.2,-2.1,1.7,-2.0,2.3,-1.8,1.9,-2.2,
2.1,-2.0,1.8,-1.6,2.2,-2.3,2.0,-1.9,2.1,-1.8,
1.9,-2.2,2.3,-1.9,1.7,-2.1,2.0,-2.2,2.2,-2.0,
2.1,-2.3,2.5,-2.6,2.8,-3.0,3.2,-3.3,3.5,-3.5,
4.0,-4.0,4.5,-4.5,5.0,-4.5,5.5,-5.0,5.5,-5.0,
6.0,-5.0,6.0,-5.5,6.0,-5.0,5.5,-5.0,6.0,-5.5,
5.5,-5.0,6.0,-5.5,6.0,-5.0,5.5,-5.0,5.5,-5.0,
6.0,-5.0,5.5,-5.0,5.5,-4.5,5.0,-4.5,4.5,-4.0,
4.0,-4.0,3.5,-3.5,3.0,-3.0,2.8,-2.5,2.5,-2.5,
2.2,-2.2,2.2,-2.0,2.0,-2.0,2.0,-1.9,1.9,-2.0,
1.9,-2.0,1.8,-1.9,2.0,-1.8,1.9,-2.0,1.8,-1.9,
1.9];

const LEFT_SERIES = [FP1,F3,F7,C3,T3,T5,P3,O1];
const RIGHT_SERIES = [FP2,F4,F8,C4,T4,T6,P4,O2];

// Head map (units of head radius)
const ELEC_NAMES = ['Fp1','Fp2','F3','Fz','F4','F7','F8','T3','C3','Cz','C4','T4','T5','T6','P3','Pz','P4','O1','O2'];
const ELEC_X = [-0.32,0.32,-0.44,0,0.44,-0.76,0.76,-0.80,-0.535,0,0.535,0.80,-0.76,0.76,-0.44,0,0.44,-0.32,0.32];
const ELEC_Y = [0.78,0.78,0.53,0.51,0.53,0.29,0.29,0,0,0,0,0,-0.29,-0.29,-0.53,-0.51,-0.53,-0.78,-0.78];
const ELEC_FILL = ['#0a2259','#0a2259','#0a3c8a','#ffffff','#0a3c8a','#1e5da7','#1e5da7','#fc1426','#3880bb','#ffffff','#3880bb','#616161','#444444','#444444','#1e1e1e','#ffffff','#1e1e1e','#000000','#000000'];
const ELEC_LINE = ['#0a2259','#0a2259','#0a3c8a','#8c8c8c','#0a3c8a','#1e5da7','#1e5da7','#7d0a12','#3880bb','#8c8c8c','#3880bb','#616161','#444444','#444444','#1e1e1e','#8c8c8c','#1e1e1e','#000000','#000000'];
const NOSE_X = [-0.15,0,0.15];
const NOSE_Y = [0.989,1.155,0.989];

// ---------- drawing ----------
const FAM = '"Liberation Sans", Arial, Helvetica, sans-serif';
const Y_MIN = -15.46, Y_MAX = 15.46;

const panelText = {
  id: 'panelText',
  afterDraw(chart, args, o) {
    const ctx = chart.ctx, ca = chart.chartArea;
    ctx.save();
    ctx.fillStyle = '#000';
    ctx.font = 'bold 20px ' + FAM;
    ctx.textAlign = 'left'; ctx.textBaseline = 'alphabetic';
    ctx.fillText(o.title, ca.left, 25);
    ctx.font = 'bold 13px ' + FAM;
    ctx.textAlign = 'right'; ctx.textBaseline = 'middle';
    o.names.forEach((n, i) => {
      const s = chart.scales['y' + i];
      ctx.fillText(n, ca.left - 5, s.getPixelForValue(0));
    });
    if (o.yTitle) {
      ctx.translate(ca.right + 40, 343);
      ctx.rotate(-Math.PI / 2);
      ctx.font = 'bold 17.5px ' + FAM;
      ctx.textAlign = 'center'; ctx.textBaseline = 'middle';
      ctx.fillText(o.yTitle, 0, 0);
    }
    ctx.restore();
  }
};

function makeColumn(id, names, series, colors, padLeft, padRight, title, yTitle) {
  const scales = {
    x: {
      type: 'linear', min: 0, max: 500, position: 'bottom',
      afterBuildTicks: s => { s.ticks = X_GRID.map(v => ({value: v})); },
      afterFit: s => { s.height = 36.35; },
      grid: {
        drawTicks: false,
        color: c => (c.tick && X_TICK_LABELS.includes(c.tick.value)) ? '#ebebeb' : '#f4f4f4',
        lineWidth: c => (c.tick && X_TICK_LABELS.includes(c.tick.value)) ? 1.1 : 0.8
      },
      border: {display: false},
      ticks: {
        autoSkip: false, maxRotation: 0, padding: 3, color: '#4d4d4d',
        font: {size: 13.5, family: FAM},
        callback: v => X_TICK_LABELS.includes(v) ? String(v) : ''
      },
      title: {display: true, text: 'Time in Seconds', color: '#000',
        font: {size: 17.5, weight: 'bold', family: FAM}, padding: {top: 0, bottom: 0}}
    }
  };
  names.forEach((n, i) => {
    scales['y' + i] = {
      type: 'linear', position: 'right', stack: id, stackWeight: 1,
      min: Y_MIN, max: Y_MAX,
      afterBuildTicks: s => { s.ticks = Y_GRID.map(v => ({value: v})); },
      afterFit: s => { s.width = 28; },
      grid: {
        drawTicks: false,
        color: c => (c.tick && Y_TICK_LABELS.includes(c.tick.value)) ? '#ebebeb' : '#f4f4f4',
        lineWidth: c => (c.tick && Y_TICK_LABELS.includes(c.tick.value)) ? 1.1 : 0.8
      },
      border: {display: false},
      ticks: {
        autoSkip: false, padding: 3, color: '#4d4d4d',
        font: {size: 13.5, family: FAM},
        callback: v => Y_TICK_LABELS.includes(v) ? String(v) : ''
      }
    };
  });
  const datasets = series.map((arr, i) => ({
    label: names[i],
    data: arr.map((v, k) => ({x: TIMES[k], y: v})),
    yAxisID: 'y' + i,
    borderColor: colors[i],
    borderWidth: 1.3,
    pointRadius: 0,
    tension: 0,
    fill: false
  }));
  return new Chart(document.getElementById(id), {
    type: 'line',
    data: {datasets},
    options: {
      animation: false, responsive: false, maintainAspectRatio: false, devicePixelRatio: 1,
      layout: {autoPadding: false, padding: {left: padLeft, right: padRight, top: 30.35, bottom: 0}},
      scales,
      plugins: {legend: {display: false}, tooltip: {enabled: false},
        panelText: {title, names, yTitle}}
    },
    plugins: [panelText]
  });
}

makeColumn('cl', LEFT_NAMES, LEFT_SERIES, LEFT_COLORS, 42, 5, 'Left side', null);
makeColumn('cr', RIGHT_NAMES, RIGHT_SERIES, RIGHT_COLORS, 41.7, 30, 'Right side', 'EEG Amplitude');

const headOutline = {
  id: 'headOutline',
  beforeDatasetsDraw(chart) {
    const ctx = chart.ctx, sx = chart.scales.x, sy = chart.scales.y;
    const cx = sx.getPixelForValue(0), cy = sy.getPixelForValue(0);
    const r = sx.getPixelForValue(1) - cx;
    ctx.save();
    ctx.strokeStyle = '#555555'; ctx.lineWidth = 1;
    ctx.beginPath(); ctx.arc(cx, cy, r, 0, Math.PI * 2); ctx.stroke();
    ctx.restore();
  }
};

new Chart(document.getElementById('ch'), {
  type: 'scatter',
  data: {datasets: [
    {type: 'line', label: 'nose', data: NOSE_X.map((x, i) => ({x, y: NOSE_Y[i]})),
     borderColor: '#555555', borderWidth: 1, pointRadius: 0, fill: false, tension: 0},
    {label: 'electrodes', data: ELEC_X.map((x, i) => ({x, y: ELEC_Y[i]})),
     pointRadius: 12.5, pointBackgroundColor: ELEC_FILL, pointBorderColor: ELEC_LINE, pointBorderWidth: 1}
  ]},
  options: {
    animation: false, responsive: false, maintainAspectRatio: false, devicePixelRatio: 1,
    layout: {autoPadding: false, padding: 0},
    scales: {x: {type: 'linear', display: false, min: -1.15, max: 0.98},
             y: {type: 'linear', display: false, min: -1.15, max: 1.25}},
    plugins: {legend: {display: false}, tooltip: {enabled: false}}
  },
  plugins: [headOutline]
});
</script>
</body></html>
